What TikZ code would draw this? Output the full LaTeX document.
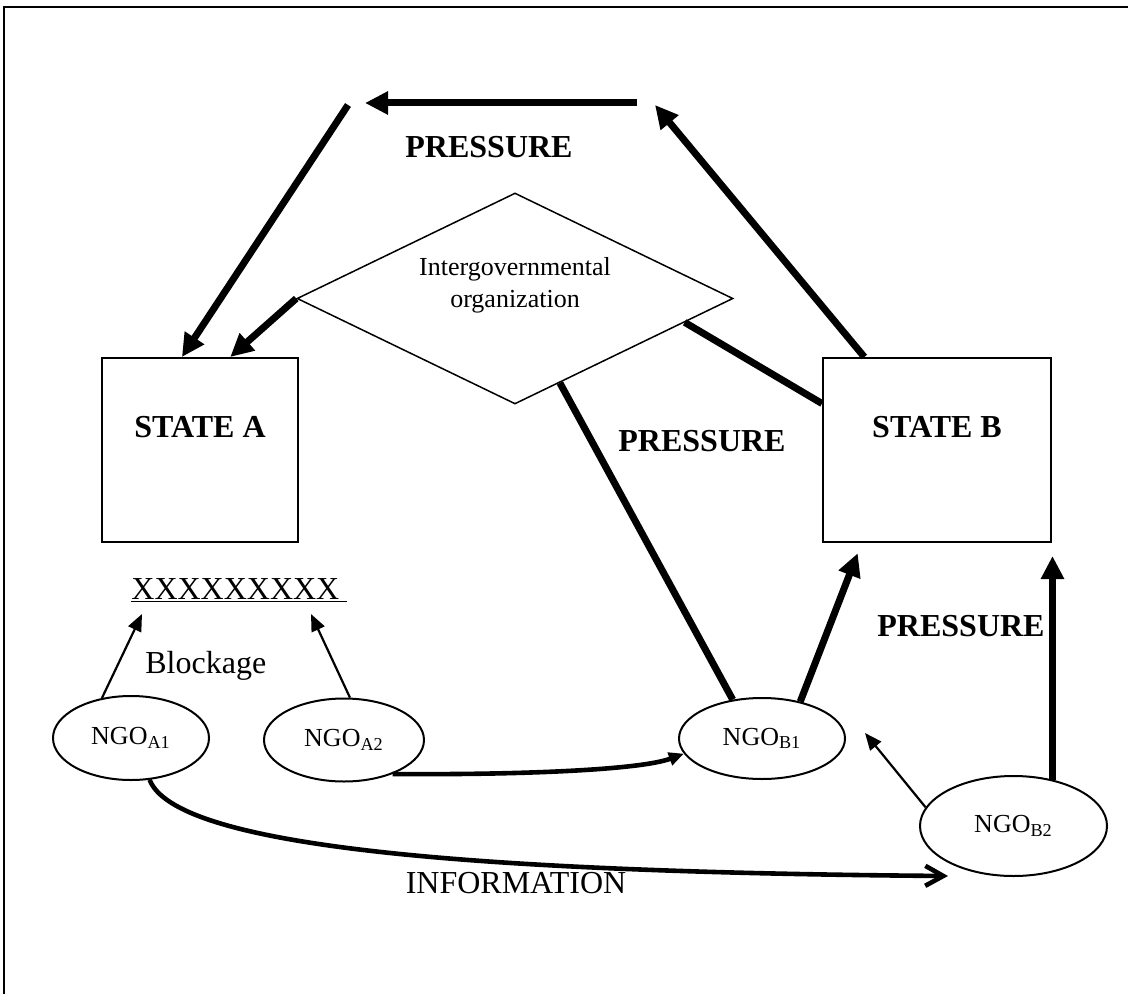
\documentclass[tikz,border=0pt]{standalone}
\usepackage{fontspec}
\setmainfont{Liberation Serif}
\usetikzlibrary{shapes.geometric,arrows.meta,calc}
\begin{document}
\begin{tikzpicture}[x=0.5pt,y=-0.5pt,
  big/.style={font=\fontsize{16}{19}\selectfont},
  bigbold/.style={font=\fontsize{16}{19}\selectfont\bfseries},
  small/.style={font=\fontsize{13}{16}\selectfont},
  statebox/.style={draw, line width=1pt, rectangle, inner sep=0pt},
  ngo/.style={draw, line width=1pt, ellipse, inner sep=0pt, font=\fontsize{13}{16}\selectfont},
  pressarrow/.style={line width=3.5pt, -{Triangle[length=11.5pt,width=11pt]}},
  pressline/.style={line width=3.5pt},
  thinarrow/.style={line width=1.1pt, -{Triangle[length=8.5pt,width=7pt]}},
  curvearrow/.style={line width=2.3pt},
]
\useasboundingbox (0,0) rectangle (1128,994);
% frame
\draw[line width=1.2pt] (3,7) -- (1128,7);
\draw[line width=1.2pt] (4,7) -- (4,994);

% shapes
\node[statebox, minimum width=98pt, minimum height=92pt] (stateA) at (200,450) {};
\node[statebox, minimum width=114pt, minimum height=92pt] (stateB) at (937,450) {};
\node[draw, line width=0.75pt, diamond, shape aspect=2.07, inner sep=0pt,
      minimum width=218pt, minimum height=105.5pt] (igo) at (515,298.5) {};
\node[ngo, minimum width=78pt, minimum height=42pt] (ngoA1) at (131,738) {NGO\textsubscript{A1}};
\node[ngo, minimum width=80pt, minimum height=41.5pt] (ngoA2) at (344,740) {NGO\textsubscript{A2}};
\node[ngo, minimum width=83pt, minimum height=40.5pt] (ngoB1) at (762,738.5) {NGO\textsubscript{B1}};
\node[ngo, minimum width=93.5pt, minimum height=50pt] (ngoB2) at (1013.5,826) {NGO\textsubscript{B2}};

% texts
\node[bigbold] (statea) at (200,427) {STATE A};
\node[bigbold] (stateb) at (937,427) {STATE B};
\node[small, align=center] (igotext) at (515,285) {Intergovernmental\\organization};
\node[bigbold] (presstop) at (489,147.5) {PRESSURE};
\node[bigbold] (pressmid) at (702,441) {PRESSURE};
\node[bigbold] (pressright) at (961,626) {PRESSURE};
\node[big, anchor=base west, inner sep=0pt] (xxx) at (131,599) {\underline{XXXXXXXXX\ }};
\node[big, anchor=base west, inner sep=0pt] (block) at (145,673) {Blockage};
\node[big, anchor=base, inner sep=0pt] (info) at (516,893) {INFORMATION};

% free points
\coordinate (p1) at (348,105);
\coordinate (p2) at (365,103);
\coordinate (p3) at (637,103);
\coordinate (p4) at (655,105);
\coordinate (xa) at (142,614);
\coordinate (xb) at (311,614);
\coordinate (b1tip) at (865,733);
\coordinate (infotip) at (948,876);

% pressure cycle
\draw[pressarrow] (stateB.128) -- (p4);
\draw[pressarrow] (p3) -- (p2);
\draw[pressarrow] (p1) -- (stateA.101);
\draw[pressarrow] (igo.west) -- (stateA.72);
\draw[pressline] (igo.-8) -- (stateB.158);
\draw[pressline] (igo.-62) -- (ngoB1.127);
\draw[pressarrow, shorten >=5.5pt] (ngoB1.44) -- (stateB.231);
\draw[pressarrow, shorten >=6.5pt] (ngoB2.50) -- (ngoB2.50 |- stateB.south);

% thin arrows
\draw[thinarrow] (ngoB2.168) -- (b1tip);
\draw[thinarrow] (ngoA1.126) -- (xa);
\draw[thinarrow] (ngoA2.82) -- (xb);

% curves
\draw[curvearrow, -{Triangle[length=7.5pt,width=6.5pt]}] (ngoA2.-35) .. controls (520,775) and (640,770) .. (ngoB1.191);
\draw[curvearrow, -{Straight Barb[length=9pt,width=10pt]}] (ngoA1.-66) .. controls (175,845) and (450,872) .. (infotip);
\end{tikzpicture}
\end{document}
